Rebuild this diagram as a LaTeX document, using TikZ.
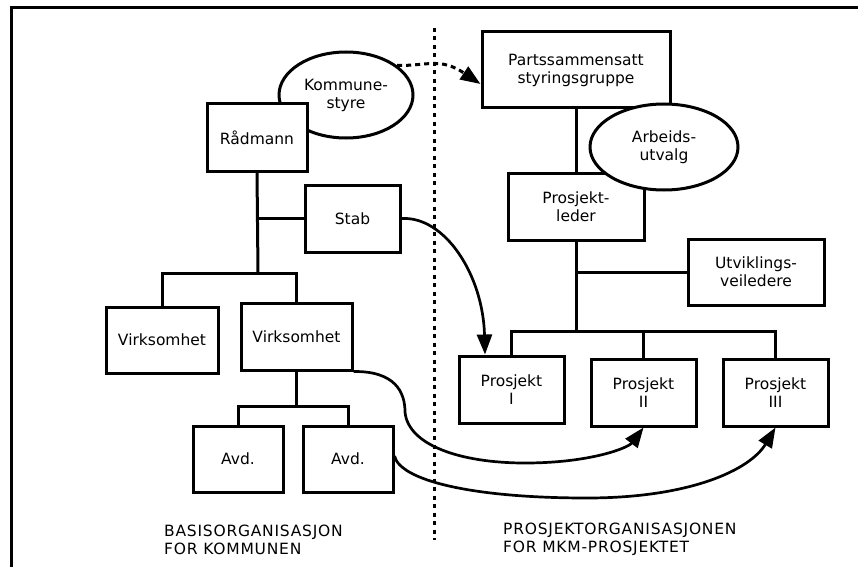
\documentclass[tikz,border=0pt]{standalone}
\usepackage{fontspec}
\setmainfont{DejaVu Sans}
\newfontfamily\capsfont[LetterSpace=5]{DejaVu Sans}
\usetikzlibrary{arrows.meta,shapes.geometric}
\begin{document}
\begin{tikzpicture}[x=1pt,y=-1pt,
  txt/.style={font=\fontsize{15.5}{18}\selectfont},
  box/.style={txt,draw,line width=3pt,fill=white,rectangle,align=center,inner sep=0pt},
  oval/.style={txt,draw,line width=3pt,fill=white,ellipse,align=center,inner sep=0pt},
  link/.style={line width=3pt},
  flow/.style={line width=2.7pt,-{Triangle[length=20pt,width=15pt]}},
  boundary/.style={line width=3pt,dash pattern=on 4pt off 4.5pt},
  govern/.style={line width=3pt,dash pattern=on 5pt off 4pt,-{Triangle[length=20pt,width=15pt]}},
  caption/.style={font=\capsfont\fontsize{15.5}{18}\selectfont,align=left,anchor=north west,inner sep=0pt},
  frame/.style={line width=3pt}
]
\useasboundingbox (0,0) rectangle (858,567);

% outer frame (top and left edges)
\coordinate (fr1) at (858,8);
\coordinate (fr2) at (11.5,8);
\coordinate (fr3) at (11.5,567);
\draw[frame] (fr1) -- (fr2) -- (fr3);

% ---------- municipal organisation ----------
\node[oval,minimum width=134pt,minimum height=86pt] (kst) at (346,95) {Kommune-\\styre};
\node[box,minimum width=100pt,minimum height=67pt] (rad) at (257,137.5) {Rådmann};
\node[box,minimum width=95pt,minimum height=67pt] (stab) at (352.5,218.5) {Stab};
\node[box,minimum width=112pt,minimum height=66pt] (virk1) at (162,340) {Virksomhet};
\node[box,minimum width=111pt,minimum height=67pt] (virk2) at (296.5,336.5) {Virksomhet};
\node[box,minimum width=90pt,minimum height=66pt] (avd1) at (238,459) {Avd.};
\node[box,minimum width=90pt,minimum height=66pt] (avd2) at (348,459) {Avd.};

\coordinate (bar1) at (258,273);
\draw[link] (rad.south) -- (bar1);
\draw[link] (virk1.north) |- (bar1) -| (virk2.north);
\draw[link] (stab.west) -- (stab.west -| rad.south);
\draw[link] (virk2.south) -- ++(0,35) coordinate (bar2);
\draw[link] (avd1.north) |- (bar2) -| (avd2.north);

% ---------- project organisation ----------
\node[box,minimum width=188pt,minimum height=76pt] (psg) at (576,70) {Partssammensatt\\styringsgruppe};
\node[box,minimum width=136pt,minimum height=67pt] (pl) at (576,206.5) {Prosjekt-\\leder};
\node[box,minimum width=136pt,minimum height=66pt] (uv) at (756,272) {Utviklings-\\veiledere};
\node[box,minimum width=105pt,minimum height=67pt] (p1) at (511.5,389.5) {Prosjekt\\I};
\node[box,minimum width=105pt,minimum height=67pt] (p2) at (643.5,392.5) {Prosjekt\\II};
\node[box,minimum width=105pt,minimum height=67pt] (p3) at (775.5,392.5) {Prosjekt\\III};

\draw[link] (psg.south) -- (pl.north);
\draw[link] (pl.south) -- ++(0,90) coordinate (bar3);
\draw[link] (uv.west) -- (uv.west -| pl.south);
\draw[link] (p1.north) |- (bar3) -| (p3.north);
\draw[link] (p2.north) -- (p2.north |- bar3);

\node[oval,minimum width=148pt,minimum height=86pt] (au) at (664,147) {Arbeids-\\utvalg};

% dividing line between the two organisations
\coordinate (div1) at (434,28);
\coordinate (div2) at (434,540);
\draw[boundary] (div1) -- (div2);

% links between the organisations
\draw[govern] (kst.30) .. controls (428,66) and (440,57) .. ([yshift=-14pt]psg.west);
\draw[flow] (stab.east) .. controls (445,216) and (483,275) .. ([xshift=-26.5pt]p1.north);
\draw[flow] (virk2.south east) .. controls (395,371) and (405,392) .. (405,412)
  .. controls (408,445) and (460,463) .. (525,463)
  .. controls (590,463) and (628,448) .. (p2.south);
\draw[flow] ([yshift=3pt]avd2.east) .. controls (400,480) and (470,498) .. (587,498)
  .. controls (690,498) and (750,470) .. (p3.south);

% captions
\node[caption] (capL) at (164,525) {BASISORGANISASJON\\FOR KOMMUNEN};
\node[caption] (capR) at (503,523) {PROSJEKTORGANISASJONEN\\FOR MKM-PROSJEKTET};
\end{tikzpicture}
\end{document}
